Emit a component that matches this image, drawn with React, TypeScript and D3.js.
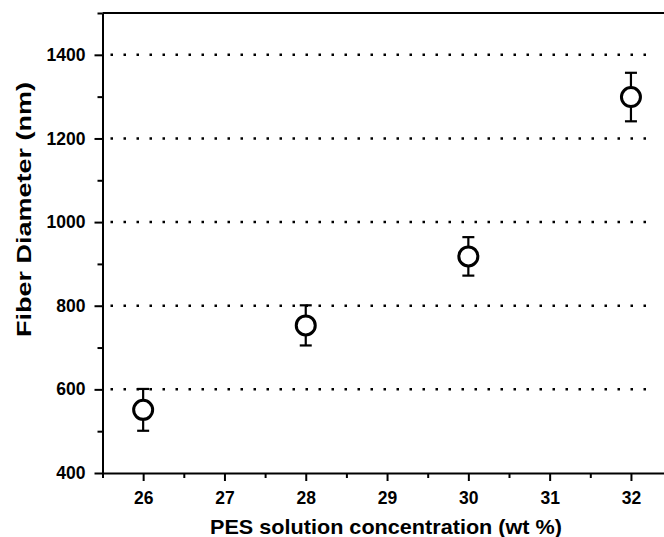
import React, { useEffect, useRef } from 'react';
import * as d3 from 'd3';

const concentrations = [26, 28, 30, 32];
const diameters = [551, 753, 918, 1299];
const errors = [50, 48, 46, 58];
const xTicks = [26, 27, 28, 29, 30, 31, 32];
const yTicks = [400, 600, 800, 1000, 1200, 1400];
const gridValues = [600, 800, 1000, 1200, 1400];

const App = () => {
  const ref = useRef<SVGSVGElement | null>(null);

  useEffect(() => {
    const width = 664;
    const height = 537;
    const left = 102.5;
    const top = 13;
    const bottom = 473;

    const svg = d3.select(ref.current);
    svg.selectAll('*').remove();

    const x = d3.scaleLinear().domain([25.5, 32.5]).range([left, left + 7 * 81.3]);
    const y = d3.scaleLinear().domain([400, 1500]).range([bottom, top]);
    const font = 'Liberation Sans, Arial, sans-serif';

    // dotted grid
    svg.append('g')
      .selectAll('line')
      .data(gridValues)
      .join('line')
      .attr('x1', left + 8)
      .attr('x2', 656)
      .attr('y1', d => y(d))
      .attr('y2', d => y(d))
      .attr('stroke', '#000')
      .attr('stroke-width', 2.5)
      .attr('stroke-dasharray', '2.5 10.5');

    // top spine
    svg.append('line')
      .attr('x1', left).attr('x2', width)
      .attr('y1', top).attr('y2', top)
      .attr('stroke', '#000').attr('stroke-width', 2);

    // x axis
    const xMinor = d3.range(25.5, 32.6, 0.5).filter(v => !xTicks.includes(v));
    const gx = svg.append('g').attr('transform', `translate(0,${bottom})`);
    gx.call(d3.axisBottom(x).tickValues(xTicks).tickSize(8).tickSizeOuter(0).tickPadding(11).tickFormat(d3.format('d')));
    gx.append('g').call(d3.axisBottom(x).tickValues(xMinor).tickSize(5).tickSizeOuter(0).tickFormat(() => ''))
      .select('.domain').remove();

    // y axis
    const yMinor = d3.range(500, 1501, 200);
    const gy = svg.append('g').attr('transform', `translate(${left},0)`);
    gy.call(d3.axisLeft(y).tickValues(yTicks).tickSize(8).tickSizeOuter(0).tickPadding(9).tickFormat(d3.format('d')));
    gy.append('g').call(d3.axisLeft(y).tickValues(yMinor).tickSize(5).tickSizeOuter(0).tickFormat(() => ''))
      .select('.domain').remove();

    svg.selectAll('.domain, .tick line').attr('stroke', '#000').attr('stroke-width', 2);
    svg.selectAll('.tick text')
      .attr('fill', '#000')
      .attr('font-family', font)
      .attr('font-weight', 'bold')
      .attr('font-size', 17.5);

    // error bars
    const pts = concentrations.map((c, i) => ({ c, v: diameters[i], e: errors[i] }));
    const eb = svg.append('g').attr('stroke', '#000').attr('stroke-width', 2.2);
    pts.forEach(p => {
      eb.append('line').attr('x1', x(p.c)).attr('x2', x(p.c)).attr('y1', y(p.v - p.e)).attr('y2', y(p.v + p.e));
      [p.v - p.e, p.v + p.e].forEach(v => {
        eb.append('line').attr('x1', x(p.c) - 6).attr('x2', x(p.c) + 6).attr('y1', y(v)).attr('y2', y(v));
      });
    });

    // markers
    svg.append('g')
      .selectAll('circle')
      .data(pts)
      .join('circle')
      .attr('cx', d => x(d.c))
      .attr('cy', d => y(d.v))
      .attr('r', 9.5)
      .attr('fill', '#fff')
      .attr('stroke', '#000')
      .attr('stroke-width', 3);

    // titles
    svg.append('text')
      .attr('x', 210)
      .attr('y', 534)
      .attr('textLength', 352)
      .attr('lengthAdjust', 'spacingAndGlyphs')
      .attr('font-family', font)
      .attr('font-weight', 'bold')
      .attr('font-size', 21)
      .text('PES solution concentration (wt %)');

    svg.append('text')
      .attr('transform', `translate(31,337) rotate(-90)`)
      .attr('textLength', 255)
      .attr('lengthAdjust', 'spacingAndGlyphs')
      .attr('font-family', font)
      .attr('font-weight', 'bold')
      .attr('font-size', 21)
      .text('Fiber Diameter (nm)');

    svg.attr('width', width).attr('height', height);
  }, []);

  return <svg ref={ref} width={664} height={537} style={{ position: 'absolute', left: 0, top: 0, background: '#fff' }} />;
};

export default App;
